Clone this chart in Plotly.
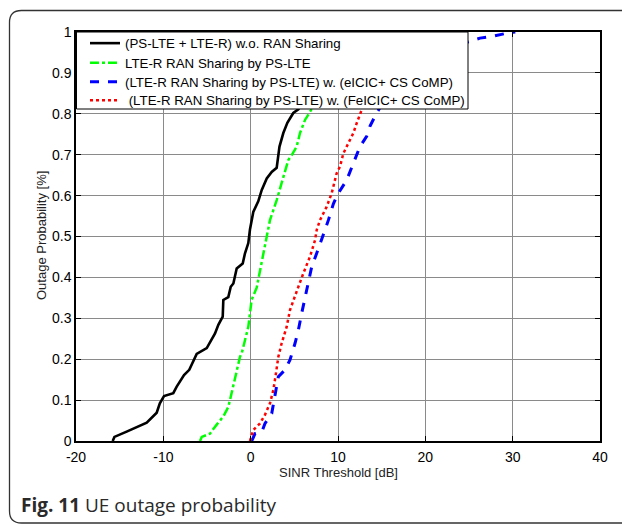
import plotly.graph_objects as go

# ---- data ----
black_x = [-15.8, -15.6, -14.2, -13.05, -11.9, -10.76, -10.4, -9.92, -8.86, -8.47, -7.63, -7.03, -6.57, -6.18,
           -5.03, -4.46, -4.08, -3.7, -3.2, -3.13, -2.56, -2.28, -1.98, -1.6, -0.91, -0.65, -0.27, -0.08, 0.1,
           0.3, 0.87, 1.27, 1.84, 2.41, 2.98, 3.3, 3.74, 4.2, 4.88, 5.46, 6.5, 8.0, 10.0, 13.0]
black_y = [0, 0.01, 0.023, 0.035, 0.045, 0.069, 0.092, 0.11, 0.117, 0.133, 0.161, 0.174, 0.194, 0.213,
           0.227, 0.247, 0.263, 0.284, 0.304, 0.345, 0.352, 0.377, 0.385, 0.422, 0.434, 0.459, 0.484, 0.517, 0.54,
           0.56, 0.586, 0.614, 0.642, 0.658, 0.668, 0.72, 0.753, 0.778, 0.802, 0.811, 0.85, 0.9, 0.95, 1.0]

green_x = [-5.8, -5.6, -4.66, -4.28, -3.89, -3.13, -2.56, -2.37, -2.18, -1.79, -1.41, -1.22, -1.03, -0.65,
           -0.46, -0.27, -0.08, 0.11, 0.69, 1.07, 1.45, 2.02, 2.21, 2.98, 3.55, 4.31, 4.7, 5.27, 5.65, 6.22,
           6.72, 8.0, 10.0, 13.0, 17.0]
green_y = [0, 0.01, 0.018, 0.03, 0.04, 0.06, 0.083, 0.1, 0.117, 0.15, 0.19, 0.206, 0.214, 0.247,
           0.263, 0.279, 0.312, 0.345, 0.375, 0.414, 0.46, 0.516, 0.54, 0.589, 0.63, 0.687, 0.699, 0.72, 0.753,
           0.785, 0.802, 0.85, 0.9, 0.95, 1.0]

blue_x = [0.12, 0.5, 1.27, 1.64, 2.41, 2.79, 3.17, 3.93, 4.5, 5.08, 5.46, 5.84, 6.22, 6.6, 6.99, 7.56, 8.13,
          8.51, 8.9, 9.47, 10.04, 11.0, 11.76, 12.52, 13.28, 13.67, 14.43, 14.8, 16.0, 18.0, 21.0, 24.92,
          26.26, 27.8, 29.32, 30.3]
blue_y = [0, 0.018, 0.022, 0.043, 0.067, 0.108, 0.157, 0.174, 0.198, 0.239, 0.271, 0.312, 0.352, 0.385,
          0.426, 0.459, 0.491, 0.516, 0.54, 0.58, 0.606, 0.638, 0.679, 0.72, 0.745, 0.77, 0.802, 0.815, 0.85,
          0.9, 0.94, 0.976, 0.985, 0.99, 0.997, 1.0]

red_x = [-0.08, 0.3, 1.07, 1.64, 2.21, 2.6, 2.9, 3.17, 3.55, 4.12, 4.5, 5.08, 5.46, 6.03, 6.8, 7.37, 7.56,
         7.94, 8.71, 9.28, 9.85, 10.23, 10.61, 11.18, 11.76, 12.14, 12.72, 14.0, 16.0, 19.0, 24.0]
red_y = [0, 0.027, 0.043, 0.064, 0.092, 0.125, 0.166, 0.206, 0.239, 0.279, 0.32, 0.352, 0.377, 0.41,
         0.451, 0.491, 0.516, 0.54, 0.573, 0.606, 0.655, 0.671, 0.703, 0.728, 0.753, 0.777, 0.81, 0.85,
         0.9, 0.95, 1.0]

series_names = [
    "(PS-LTE + LTE-R) w.o. RAN Sharing",
    "LTE-R RAN Sharing by PS-LTE",
    "(LTE-R RAN Sharing by PS-LTE) w. (eICIC+ CS CoMP)",
    " (LTE-R RAN Sharing by PS-LTE) w. (FeICIC+ CS CoMP)",
]
x_ticks = [-20, -10, 0, 10, 20, 30, 40]
y_ticks = [0, 0.1, 0.2, 0.3, 0.4, 0.5, 0.6, 0.7, 0.8, 0.9, 1]
y_tick_labels = ["0", "0.1", "0.2", "0.3", "0.4", "0.5", "0.6", "0.7", "0.8", "0.9", "1"]

# page is rendered with an 8px body margin
OFF = 8
PAGE_W, PAGE_H = 630, 525
W, H = PAGE_W - OFF, PAGE_H - OFF
# plot area in page pixels
PL, PR, PT, PB = 76, 600, 32, 441
L, R, T, B = PL - OFF, PAGE_W - PR, PT - OFF, PAGE_H - PB
PW, PH = PR - PL, PB - PT

def px(xp):
    return (xp - PL) / PW

def py(yp):
    return (PB - yp) / PH

FONT = "Liberation Sans, Arial, sans-serif"
legend_keys = ["legend", "legend2", "legend3", "legend4"]
row_centres = [43, 62.5, 81.5, 100]

fig = go.Figure()
fig.add_trace(go.Scatter(x=black_x, y=black_y, mode="lines", name=series_names[0], legend=legend_keys[0],
                         line=dict(color="#000000", width=2.6)))
fig.add_trace(go.Scatter(x=green_x, y=green_y, mode="lines", name=series_names[1], legend=legend_keys[1],
                         line=dict(color="#00ff00", width=2.5, dash="dashdot")))
fig.add_trace(go.Scatter(x=blue_x, y=blue_y, mode="lines", name=series_names[2], legend=legend_keys[2],
                         line=dict(color="#0000ff", width=3, dash="dash")))
fig.add_trace(go.Scatter(x=red_x, y=red_y, mode="lines", name=series_names[3], legend=legend_keys[3],
                         line=dict(color="#ff0000", width=2.5, dash="dot")))

axis_font = dict(family=FONT, size=14, color="#000000")

fig.update_xaxes(range=[-20, 40], tickvals=x_ticks, ticktext=[str(v) for v in x_ticks],
                 showgrid=True, gridcolor="#8a8a8a", gridwidth=1,
                 showline=True, linecolor="#000000", linewidth=1.5, mirror="ticks",
                 ticks="inside", ticklen=5, tickcolor="#000000", zeroline=False,
                 tickfont=axis_font, ticklabelstandoff=2)
fig.update_yaxes(range=[0, 1], tickvals=y_ticks, ticktext=y_tick_labels,
                 showgrid=True, gridcolor="#8a8a8a", gridwidth=1,
                 showline=True, linecolor="#000000", linewidth=1.5, mirror="ticks",
                 ticks="inside", ticklen=5, tickcolor="#000000", zeroline=False,
                 tickfont=axis_font)

# axis titles
fig.add_annotation(text="SINR Threshold [dB]", xref="paper", yref="paper",
                   x=px(338), y=py(473), xanchor="center", yanchor="middle", showarrow=False,
                   font=dict(family=FONT, size=13, color="#222222"))
fig.add_annotation(text="Outage Probability [%]", xref="paper", yref="paper", textangle=-90,
                   x=px(41), y=py(236), xanchor="center", yanchor="middle", showarrow=False,
                   font=dict(family=FONT, size=13, color="#222222"))

# legend box (white, covers the curves like the original)
fig.add_shape(type="rect", xref="paper", yref="paper",
              x0=px(76.5), x1=px(468), y0=py(109), y1=py(32),
              fillcolor="white", line=dict(color="#000000", width=1), layer="above")

# rounded frame around the figure
x0, x1 = px(9.5), px(640)
y0, y1 = py(10.5), py(523)
rx, ry = 12 / PW, 12 / PH
path = (f"M {x1},{y0} L {x0 + rx},{y0} Q {x0},{y0} {x0},{y0 - ry} "
        f"L {x0},{y1 + ry} Q {x0},{y1} {x0 + rx},{y1} L {x1},{y1}")
fig.add_shape(type="path", path=path, xref="paper", yref="paper",
              line=dict(color="#333333", width=1.3), layer="above")

fig.add_annotation(text="<b>Fig. 11</b> UE outage probability", xref="paper", yref="paper",
                   x=px(19), y=py(505), xanchor="left", yanchor="middle", showarrow=False,
                   font=dict(family="Open Sans, Noto Sans, sans-serif", size=19, color="#2a2a2a"))

legend_common = dict(xanchor="left", yanchor="top", bgcolor="rgba(0,0,0,0)", borderwidth=0,
                     font=dict(family=FONT, size=13.3, color="#000000"), itemwidth=30)
layout_legends = {}
for key, yc in zip(legend_keys, row_centres):
    layout_legends[key] = dict(x=px(85), y=py(yc - 15), **legend_common)

fig.update_layout(
    width=W, height=H,
    margin=dict(l=L, r=R, t=T, b=B),
    paper_bgcolor="white", plot_bgcolor="white",
    showlegend=True,
    **layout_legends,
)

fig.write_html("out.html")
